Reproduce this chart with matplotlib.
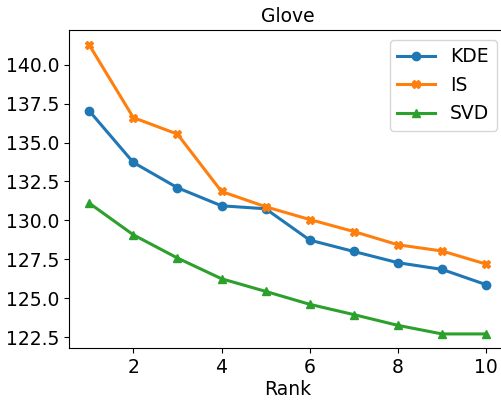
import matplotlib
matplotlib.use("Agg")
import matplotlib.pyplot as plt

rank = [1, 2, 3, 4, 5, 6, 7, 8, 9, 10]
kde = [137.03, 133.72, 132.1, 130.94, 130.75, 128.74, 128.01, 127.29, 126.86, 125.88]
is_vals = [141.26, 136.6, 135.54, 131.86, 130.88, 130.06, 129.29, 128.44, 128.04, 127.2]
svd = [131.11, 129.08, 127.59, 126.26, 125.45, 124.62, 123.96, 123.27, 122.72, 122.72]

fs = 13.5
fig = plt.figure(figsize=(5.02, 4.01), dpi=100)
ax = fig.add_axes([0.1382, 0.1312, 0.8697, 0.7928])
ax.plot(rank, kde, marker='o', lw=2.2, ms=6, label='KDE')
ax.plot(rank, is_vals, marker='X', lw=2.2, ms=6, label='IS')
ax.plot(rank, svd, marker='^', lw=2.2, ms=6, label='SVD')
ax.set_title('Glove', fontsize=fs)
ax.set_xlabel('Rank', fontsize=fs, labelpad=2)
ax.set_yticks([122.5, 125.0, 127.5, 130.0, 132.5, 135.0, 137.5, 140.0])
ax.set_xticks([2, 4, 6, 8, 10])
ax.tick_params(labelsize=fs)
ax.legend(loc='upper right', fontsize=fs)
fig.savefig('out.png', dpi=100)
